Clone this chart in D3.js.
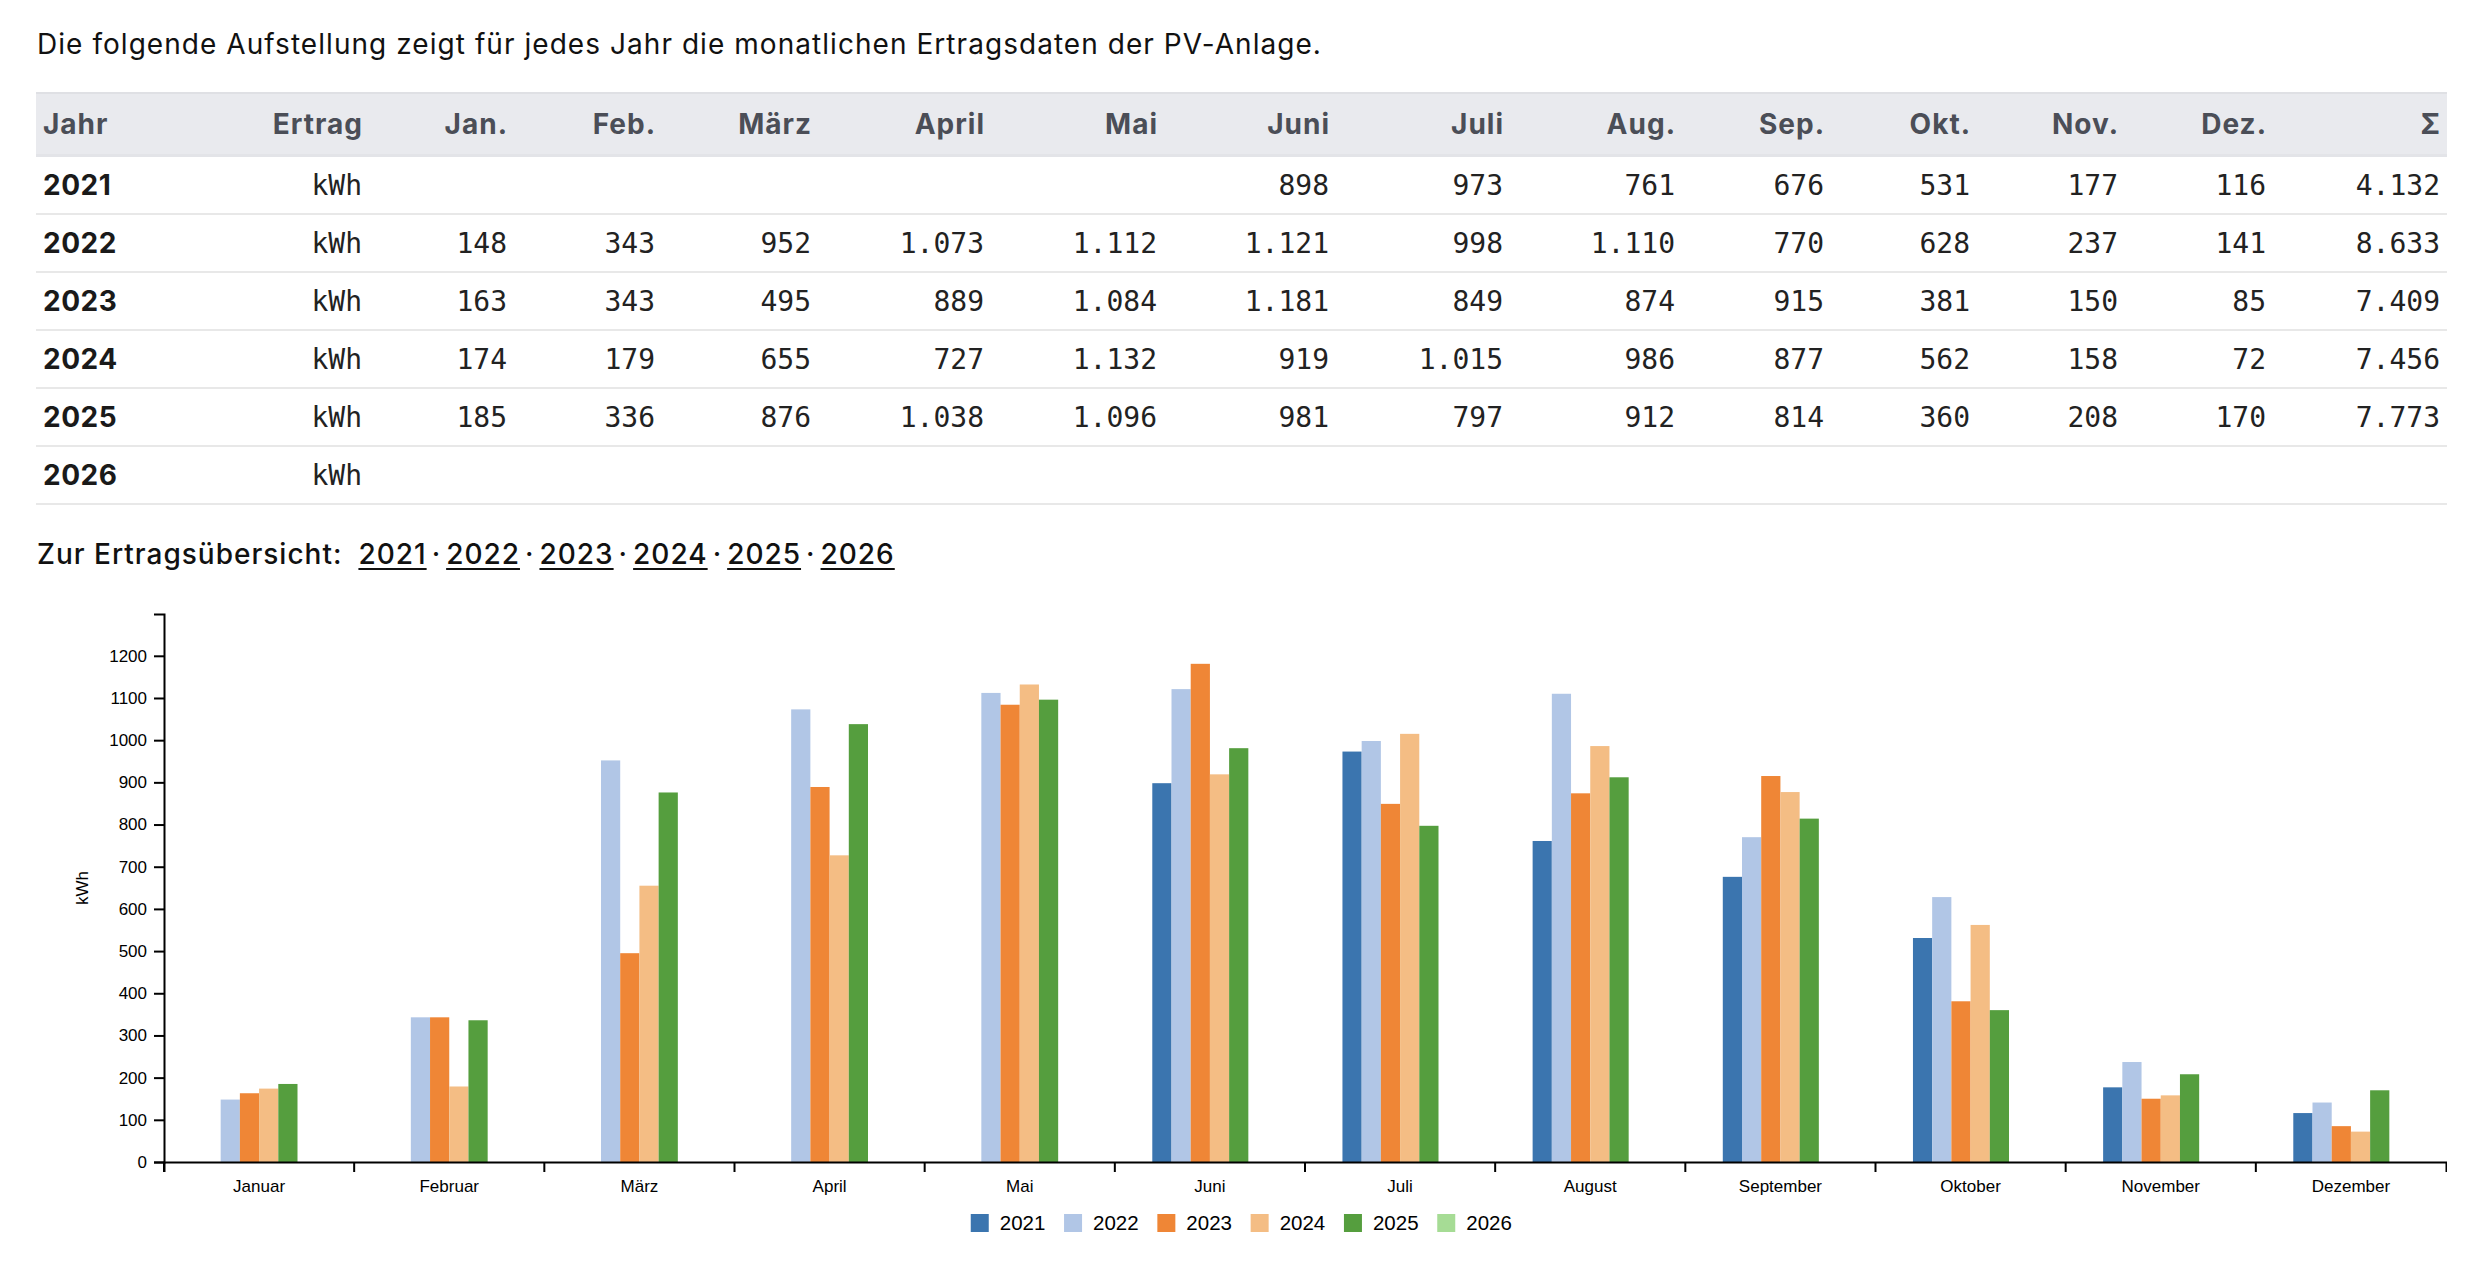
<!DOCTYPE html>
<html lang="de">
<head>
<meta charset="utf-8">
<title>PV-Ertrag</title>
<script src="https://cdn.jsdelivr.net/npm/d3@7"></script>
<style>
  body { margin: 0; background: #fff; width: 2484px; height: 1272px; overflow: hidden; position: relative; font-family: Inter, "Open Sans", sans-serif; color: #111; }
  #intro { position: absolute; left: 37px; top: 25px; font-size: 28px; letter-spacing: 1.05px; line-height: 38px; }
  #table { position: absolute; left: 36px; top: 92px; }
  table { border-collapse: collapse; table-layout: fixed; width: 2411px; }
  th { height: 60px; background: #e9eaee; color: #4b4e57; font-weight: 700; font-size: 28px; letter-spacing: 1px; text-align: right; padding: 0 6px 0 7px; border-top: 2px solid #dfe0e4; border-bottom: 3px solid #e3e4e8; }
  th.left { text-align: left; }
  td { height: 56px; font-family: "DejaVu Sans Mono", monospace; font-size: 28px; text-align: right; padding: 0 7px; border-bottom: 2px solid #e8e8e8; color: #222; }
  td.year { font-family: Inter, "Open Sans", sans-serif; font-weight: 700; font-size: 28px; letter-spacing: 0.5px; text-align: left; color: #1a1a1a; }
  #links { position: absolute; left: 37px; top: 535px; font-size: 28px; letter-spacing: 1px; line-height: 38px; font-weight: 500; }
  #links a { color: #111; text-decoration: underline; text-underline-offset: 4px; }
  #links .sep { margin: 0 5px; }
  #chart { position: absolute; left: 36px; top: 580px; }
  .axis text { font-family: "Liberation Sans", Arial, sans-serif; font-size: 17px; fill: #000; }
  .axis path, .axis line { stroke: #000; stroke-width: 2px; }
</style>
</head>
<body>
<div id="intro">Die folgende Aufstellung zeigt für jedes Jahr die monatlichen Ertragsdaten der PV-Anlage.</div>
<div id="table"></div>
<div id="links"></div>
<div id="chart"></div>
<script>
// Jahre und Monate
const years = ["2021", "2022", "2023", "2024", "2025", "2026"];
const monthsShort = ["Jan.", "Feb.", "März", "April", "Mai", "Juni", "Juli", "Aug.", "Sep.", "Okt.", "Nov.", "Dez."];
const monthsLong = ["Januar", "Februar", "März", "April", "Mai", "Juni", "Juli", "August", "September", "Oktober", "November", "Dezember"];

// Monatliche Erträge in kWh (null = keine Daten)
const y2021 = [null, null, null, null, null, 898, 973, 761, 676, 531, 177, 116];
const y2022 = [148, 343, 952, 1073, 1112, 1121, 998, 1110, 770, 628, 237, 141];
const y2023 = [163, 343, 495, 889, 1084, 1181, 849, 874, 915, 381, 150, 85];
const y2024 = [174, 179, 655, 727, 1132, 919, 1015, 986, 877, 562, 158, 72];
const y2025 = [185, 336, 876, 1038, 1096, 981, 797, 912, 814, 360, 208, 170];
const y2026 = [null, null, null, null, null, null, null, null, null, null, null, null];

const series = [y2021, y2022, y2023, y2024, y2025, y2026];
const colors = ["#3b75af", "#b1c6e6", "#ef8636", "#f4bd84", "#559e3e", "#a6dc95"];

const de = d3.formatLocale({ decimal: ",", thousands: ".", grouping: [3], currency: ["", " €"] });
const fmt = de.format(",d");

// ---------- Tabelle ----------
const colWidths = [154, 179, 145, 148, 156, 173, 173, 172, 174, 172, 149, 146, 148, 148, 174];
const table = d3.select("#table").append("table");
table.append("colgroup").selectAll("col")
    .data(colWidths)
    .enter().append("col")
    .style("width", d => d + "px");

const headers = ["Jahr", "Ertrag"].concat(monthsShort, ["Σ"]);
table.append("thead").append("tr").selectAll("th")
    .data(headers)
    .enter().append("th")
    .attr("class", (d, i) => i === 0 ? "left" : null)
    .text(d => d);

const rows = table.append("tbody").selectAll("tr")
    .data(years.map((y, i) => ({ year: y, values: series[i] })))
    .enter().append("tr");

rows.append("td").attr("class", "year").text(d => d.year);
rows.append("td").text("kWh");
rows.selectAll("td.val")
    .data(d => d.values)
    .enter().append("td")
    .attr("class", "val")
    .text(v => v == null ? "" : fmt(v));
rows.append("td").text(d => {
    const s = d3.sum(d.values);
    return s > 0 ? fmt(s) : "";
});

// ---------- Links ----------
const links = d3.select("#links");
links.append("span").text("Zur Ertragsübersicht:");
links.append("span").style("display", "inline-block").style("width", "16px");
years.forEach((y, i) => {
    if (i > 0) links.append("span").attr("class", "sep").text("·");
    links.append("a").attr("href", "#").text(y);
});

// ---------- Diagramm ----------
const svgWidth = 2411, svgHeight = 692;
const margin = { top: 34, right: 1, bottom: 110, left: 128 };
const width = svgWidth - margin.left - margin.right;
const height = svgHeight - margin.top - margin.bottom;

const svg = d3.select("#chart").append("svg")
    .attr("width", svgWidth)
    .attr("height", svgHeight);

const g = svg.append("g")
    .attr("transform", `translate(${margin.left},${margin.top})`);

const x0 = d3.scaleBand()
    .domain(monthsLong)
    .range([0, width]);

const x1 = d3.scaleBand()
    .domain(years)
    .range([0, x0.bandwidth()])
    .paddingInner(0)
    .paddingOuter(1.95);

const maxVal = d3.max(series, s => d3.max(s));
const y = d3.scaleLinear()
    .domain([0, maxVal * 1.1])
    .range([height, 0]);

const color = d3.scaleOrdinal().domain(years).range(colors);

// Balken
const groups = g.selectAll(".month")
    .data(monthsLong.map((m, i) => ({ month: m, values: years.map((yr, k) => ({ year: yr, value: series[k][i] })) })))
    .enter().append("g")
    .attr("class", "month")
    .attr("transform", d => `translate(${x0(d.month)},0)`);

groups.selectAll("rect")
    .data(d => d.values.filter(v => v.value != null))
    .enter().append("rect")
    .attr("x", d => x1(d.year))
    .attr("width", x1.bandwidth())
    .attr("y", d => y(d.value))
    .attr("height", d => height - y(d.value))
    .attr("fill", d => color(d.year));

// X-Achse: Beschriftung mittig, Striche an den Bandgrenzen
const xAxis = g.append("g")
    .attr("class", "axis")
    .attr("transform", `translate(0,${height})`)
    .call(d3.axisBottom(x0).tickSize(10).tickSizeOuter(10).tickPadding(8));
xAxis.selectAll(".tick line")
    .attr("transform", `translate(${-x0.bandwidth() / 2},0)`);

// Y-Achse
g.append("g")
    .attr("class", "axis")
    .call(d3.axisLeft(y).tickSize(10).tickSizeOuter(10).tickPadding(7).tickFormat(d3.format("d")));

g.append("text")
    .attr("transform", `translate(${-82},${height / 2}) rotate(-90)`)
    .attr("text-anchor", "middle")
    .attr("dy", "0.35em")
    .style("font-family", "'Liberation Sans', Arial, sans-serif")
    .style("font-size", "17px")
    .text("kWh");

// Legende
const itemStep = 93.3, rectSize = 18;
const legendWidth = itemStep * (years.length - 1) + rectSize + 11 + 46;
const legendX = d3.scalePoint()
    .domain(years)
    .range([svgWidth / 2 - legendWidth / 2, svgWidth / 2 - legendWidth / 2 + itemStep * (years.length - 1)]);

const legend = svg.append("g")
    .attr("transform", `translate(0,${margin.top + height + 61})`);

const items = legend.selectAll(".legend-item")
    .data(years)
    .enter().append("g")
    .attr("class", "legend-item")
    .attr("transform", d => `translate(${legendX(d)},0)`);

items.append("rect")
    .attr("y", -rectSize / 2)
    .attr("width", rectSize)
    .attr("height", rectSize)
    .attr("fill", d => color(d));

items.append("text")
    .attr("x", rectSize + 11)
    .attr("dy", "0.35em")
    .style("font-family", "'Liberation Sans', Arial, sans-serif")
    .style("font-size", "20.5px")
    .text(d => d);
</script>
</body>
</html>
